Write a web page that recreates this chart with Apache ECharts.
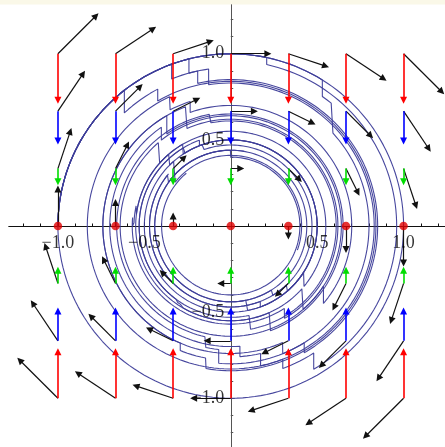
<!DOCTYPE html>
<html>
<head>
<meta charset="utf-8">
<script src="https://cdn.jsdelivr.net/npm/echarts@6/dist/echarts.min.js"></script>
<style>
html, body { margin: 0; padding: 0; background: #fff; }
#main { width: 445px; height: 447px; }
</style>
</head>
<body>
<div id="main"></div>
<script>
// grid of arrow base points (same for x and y)
var gridVals = [-1, -2/3, -1/3, 0, 1/3, 2/3, 1];
// black rotation arrows: dx depends on the row (y), dy on the column (x)
var rotDx = [-0.235, -0.157, -0.078, 0, 0.078, 0.157, 0.235];
var rotDy = [0.235, 0.157, 0.078, 0, -0.078, -0.157, -0.235];
// coloured vertical arrows, one length and colour per row
var dampDy = [0.29, 0.193, 0.097, 0, -0.097, -0.193, -0.29];
var dampColor = ['#ff0000', '#0000ff', '#00dd00', null, '#00dd00', '#0000ff', '#ff0000'];

var majorTicks = [-1, -0.5, 0.5, 1];
var minorTicks = [-1.2, -1.1, -0.9, -0.8, -0.7, -0.6, -0.4, -0.3, -0.2, -0.1,
                  0.1, 0.2, 0.3, 0.4, 0.6, 0.7, 0.8, 0.9, 1.1, 1.2];

// trajectories: [angle (deg, clockwise = decreasing), radius after vertical jump]
var pathA = [[180, 1.0], [104, 0.92], [98, 0.83], [-78, 0.76], [-86, 0.70], [-235, 0.64], [-410, 0.55], [-600, 0.50], [-612, 0.47], [-780, 0.44], [-990, 0.40], [-1310, null]];
var pathB = [[180, 1.0], [128, 0.90], [118, 0.84], [-100, 0.78], [-112, 0.74], [-250, 0.62], [-420, 0.57], [-545, 0.56], [-553, 0.55], [-590, 0.50], [-770, 0.47], [-940, 0.44], [-1180, null]];
var pathC = [[180, 1.0], [58, 0.92], [50, 0.80], [-95, 0.72], [-102, 0.66], [-260, 0.61], [-440, 0.53], [-610, 0.50], [-800, 0.44], [-1000, null]];
var pathD = [[180, 1.0], [-250, 0.92], [-258, 0.85], [-420, 0.80], [-428, 0.74], [-600, 0.65], [-790, 0.55], [-840, 0.54], [-846, 0.53], [-960, 0.50], [-1150, 0.47], [-1300, null]];
var pathE = [[180, 1.0], [78, 0.96], [-60, 0.88], [-70, 0.83], [-245, 0.76], [-252, 0.70], [-400, 0.64], [-590, 0.55], [-760, 0.50], [-950, 0.41], [-1100, null]];

var rad = Math.PI / 180;

function buildPath(steps) {
  var pts = [];
  var ang = steps[0][0], r = steps[0][1];
  for (var i = 1; i < steps.length; i++) {
    var target = steps[i][0];
    for (var a = ang; a > target; a -= 2) {
      pts.push([r * Math.cos(a * rad), r * Math.sin(a * rad)]);
    }
    var x = r * Math.cos(target * rad), y = r * Math.sin(target * rad);
    pts.push([x, y]);
    var r2 = steps[i][1];
    if (r2 == null) break;
    var y2 = (y >= 0 ? 1 : -1) * Math.sqrt(Math.max(r2 * r2 - x * x, 0));
    pts.push([x, y2]);
    var a2 = Math.atan2(y2, x) / rad;
    while (a2 > target + 180) a2 -= 360;
    while (a2 < target - 180) a2 += 360;
    ang = a2;
    r = r2;
  }
  return pts;
}

// pull the end back a little so the arrow head tip lands on the vector end
function arrow(x0, y0, dx, dy) {
  var lenPx = Math.sqrt(dx * dx + dy * dy) * 172.5;
  var k = lenPx > 0 ? Math.max(0, 1 - 3.5 / lenPx) : 0;
  return { coords: [[x0, y0], [x0 + dx * k, y0 + dy * k]] };
}

var blackArrows = [], redArrows = [], blueArrows = [], greenArrows = [];
for (var j = 0; j < gridVals.length; j++) {
  for (var i = 0; i < gridVals.length; i++) {
    var x = gridVals[i], y = gridVals[j];
    if (rotDx[j] !== 0 || rotDy[i] !== 0) {
      blackArrows.push(arrow(x, y, rotDx[j], rotDy[i]));
    }
    if (dampColor[j]) {
      var a = arrow(x, y, 0, y > 0 ? -Math.abs(dampDy[j]) : Math.abs(dampDy[j]));
      if (dampColor[j] === '#ff0000') redArrows.push(a);
      else if (dampColor[j] === '#0000ff') blueArrows.push(a);
      else greenArrows.push(a);
    }
  }
}

var dots = gridVals.map(function (v) { return [v, 0]; });
var xLabelPts = majorTicks.map(function (v) { return [v, 0]; });
var yLabelPts = majorTicks.map(function (v) { return [0, v]; });

function fmt(v) {
  return (v < 0 ? '\u2212' : '') + Math.abs(v).toFixed(1);
}

function curveSeries(steps) {
  return {
    type: 'line',
    data: buildPath(steps),
    showSymbol: false,
    silent: true,
    lineStyle: { color: '#3d3d99', width: 1.1, opacity: 0.95 },
    z: 2
  };
}

function arrowSeries(data, color, width) {
  return {
    type: 'lines',
    coordinateSystem: 'cartesian2d',
    data: data,
    symbol: ['none', 'triangle'],
    symbolSize: 7,
    lineStyle: { color: color, width: width, opacity: 1 },
    itemStyle: { color: color },
    z: 3
  };
}

function labelSeries(pts, pos, dist, idx) {
  return {
    type: 'scatter',
    data: pts,
    symbolSize: 1,
    silent: true,
    itemStyle: { color: 'rgba(0,0,0,0)' },
    label: {
      show: true, position: pos, distance: dist,
      fontFamily: 'Liberation Serif', fontSize: 18, color: '#000',
      formatter: function (p) { return fmt(p.value[idx]); }
    },
    z: 6
  };
}

function axisPair(isX) {
  var color = isX ? '#111' : '#555';
  var base = {
    type: 'value', min: -1.283, max: 1.283,
    position: isX ? 'bottom' : 'left',
    axisLabel: { show: false },
    splitLine: { show: false }
  };
  return [
    Object.assign({}, base, {
      axisLine: { onZero: true, lineStyle: { color: color, width: 1 } },
      axisTick: { show: true, inside: true, length: 4, customValues: majorTicks, lineStyle: { color: color } }
    }),
    Object.assign({}, base, {
      axisLine: { onZero: true, onZeroAxisIndex: 0, lineStyle: { color: color, width: 1 } },
      axisTick: { show: true, inside: true, length: 2.5, customValues: minorTicks, lineStyle: { color: color } }
    })
  ];
}

var chart = echarts.init(document.getElementById('main'));
var option = {
  animation: false,
  backgroundColor: '#ffffff',
  graphic: [{
    type: 'rect', left: 0, top: 0,
    shape: { x: 0, y: 0, width: 445, height: 4.5 },
    style: { fill: '#faf8e8' }
  }],
  grid: { left: 9, top: 5, width: 443.5, height: 442, containLabel: false, outerBoundsMode: 'none' },
  xAxis: axisPair(true),
  yAxis: axisPair(false),
  series: [
    curveSeries(pathA),
    curveSeries(pathB),
    curveSeries(pathC),
    curveSeries(pathD),
    curveSeries(pathE),
    arrowSeries(blackArrows, '#111111', 1.2),
    arrowSeries(redArrows, '#ff0000', 1.6),
    arrowSeries(blueArrows, '#0000ff', 1.6),
    arrowSeries(greenArrows, '#00dd00', 1.6),
    {
      type: 'scatter',
      data: dots,
      symbolSize: 8.5,
      itemStyle: { color: '#e00000' },
      z: 5
    },
    labelSeries(xLabelPts, 'bottom', 8, 0),
    labelSeries(yLabelPts, 'left', 6, 1)
  ]
};
chart.setOption(option);
</script>
</body>
</html>
